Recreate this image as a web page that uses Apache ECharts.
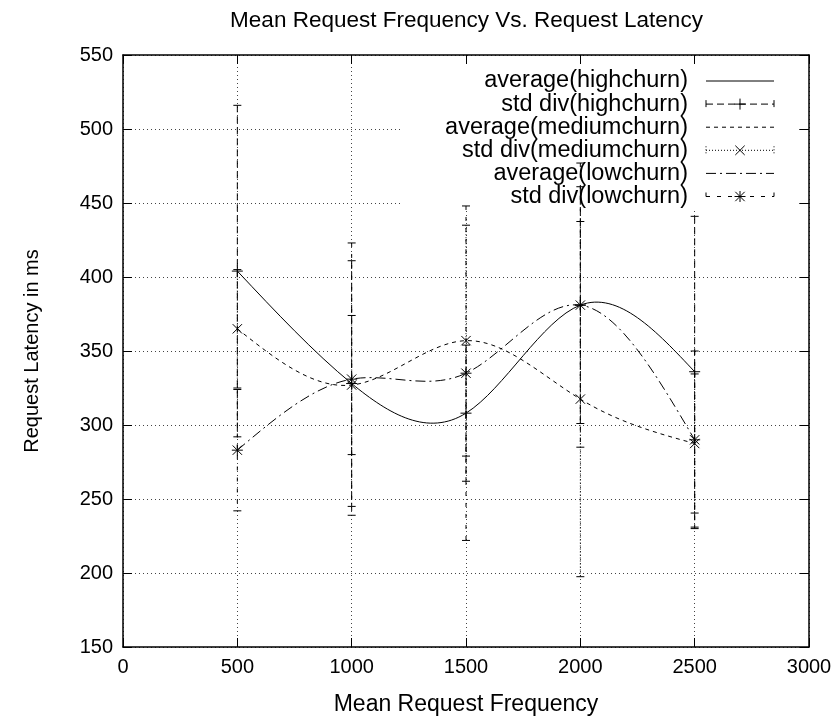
<!DOCTYPE html>
<html>
<head>
<meta charset="utf-8">
<script src="https://cdn.jsdelivr.net/npm/echarts@6/dist/echarts.min.js"></script>
<style>
  html, body { margin: 0; padding: 0; background: #fff; }
  #chart { width: 835px; height: 719px; }
</style>
</head>
<body>
<div id="chart"></div>
<script>
// Mean request frequency (x) and latency statistics (ms) per churn level
const freq = [500, 1000, 1500, 2000, 2500];

const highAvg = [404, 328, 308, 381, 336];
const highStd = [112, 83, 46, 80, 105];

const medAvg = [365, 327, 357, 317.5, 287.5];
const medStd = [40, 47, 78, 120, 47];

const lowAvg = [283, 331, 335, 381, 290];
const lowStd = [41, 92, 113, 96, 60];

const xRange = [0, 3000, 500];
const yRange = [150, 550, 50];

const seriesNames = [
  'average(highchurn)', 'std div(highchurn)',
  'average(mediumchurn)', 'std div(mediumchurn)',
  'average(lowchurn)', 'std div(lowchurn)'
];

const FONT = '"Liberation Sans", Arial, Helvetica, sans-serif';
const INK = '#000';

// dash patterns per line type
const DASH = {
  solid: null,
  highBar: [7, 4],
  medAvg: [4, 4],
  medBar: [1, 2],
  lowAvg: [10, 4, 2, 4],
  lowBar: [4, 7]
};

const MARK = 5.5;  // half size of point symbols
const CAP = 4;     // half width of error bar caps

// Slopes of the natural cubic spline through (xs, ys)
function naturalSlopes(xs, ys) {
  const n = xs.length;
  const h = [];
  for (let i = 0; i < n - 1; i++) h.push(xs[i + 1] - xs[i]);
  const M = new Array(n).fill(0);
  if (n > 2) {
    const a = [], b = [], c = [], d = [];
    for (let i = 1; i < n - 1; i++) {
      a.push(h[i - 1]);
      b.push(2 * (h[i - 1] + h[i]));
      c.push(h[i]);
      d.push(6 * ((ys[i + 1] - ys[i]) / h[i] - (ys[i] - ys[i - 1]) / h[i - 1]));
    }
    const m = b.length;
    for (let i = 1; i < m; i++) {
      const w = a[i] / b[i - 1];
      b[i] -= w * c[i - 1];
      d[i] -= w * d[i - 1];
    }
    const sol = new Array(m);
    sol[m - 1] = d[m - 1] / b[m - 1];
    for (let i = m - 2; i >= 0; i--) sol[i] = (d[i] - c[i] * sol[i + 1]) / b[i];
    for (let i = 0; i < m; i++) M[i + 1] = sol[i];
  }
  const slopes = [];
  for (let i = 0; i < n - 1; i++) {
    slopes.push((ys[i + 1] - ys[i]) / h[i] - h[i] * (2 * M[i] + M[i + 1]) / 6);
  }
  slopes.push((ys[n - 1] - ys[n - 2]) / h[n - 2] + h[n - 2] * (M[n - 2] + 2 * M[n - 1]) / 6);
  return slopes;
}

function markerShapes(cx, cy, kind) {
  const s = { stroke: INK, lineWidth: 1 };
  const out = [];
  if (kind === 'plus' || kind === 'star') {
    out.push({ type: 'line', shape: { x1: cx - MARK, y1: cy, x2: cx + MARK, y2: cy }, style: s });
    out.push({ type: 'line', shape: { x1: cx, y1: cy - MARK, x2: cx, y2: cy + MARK }, style: s });
  }
  if (kind === 'cross' || kind === 'star') {
    const d = MARK * 0.85;
    out.push({ type: 'line', shape: { x1: cx - d, y1: cy - d, x2: cx + d, y2: cy + d }, style: s });
    out.push({ type: 'line', shape: { x1: cx - d, y1: cy + d, x2: cx + d, y2: cy - d }, style: s });
  }
  return out;
}

function errorBarRenderer(kind, dash) {
  return function (params, api) {
    const x = api.value(0), y = api.value(1), s = api.value(2);
    const hi = api.coord([x, y + s]);
    const lo = api.coord([x, y - s]);
    const c = api.coord([x, y]);
    const barStyle = { stroke: INK, lineWidth: 1, lineDash: dash };
    const capStyle = { stroke: INK, lineWidth: 1 };
    const children = [
      { type: 'line', shape: { x1: hi[0], y1: hi[1], x2: lo[0], y2: lo[1] }, style: barStyle },
      { type: 'line', shape: { x1: hi[0] - CAP, y1: hi[1], x2: hi[0] + CAP, y2: hi[1] }, style: capStyle },
      { type: 'line', shape: { x1: lo[0] - CAP, y1: lo[1], x2: lo[0] + CAP, y2: lo[1] }, style: capStyle }
    ].concat(markerShapes(c[0], c[1], kind));
    return { type: 'group', children: children };
  };
}

// Cubic-spline curve (as Bezier segments) through the averages
function splineRenderer(ys, dash) {
  const slopes = naturalSlopes(freq, ys);
  return function (params, api) {
    if (params.dataIndex !== 0) return null;
    let d = '';
    for (let i = 0; i < freq.length - 1; i++) {
      const h = freq[i + 1] - freq[i];
      const p0 = api.coord([freq[i], ys[i]]);
      const c1 = api.coord([freq[i] + h / 3, ys[i] + slopes[i] * h / 3]);
      const c2 = api.coord([freq[i + 1] - h / 3, ys[i + 1] - slopes[i + 1] * h / 3]);
      const p1 = api.coord([freq[i + 1], ys[i + 1]]);
      if (i === 0) d += 'M' + p0[0] + ' ' + p0[1];
      d += ' C' + c1[0] + ' ' + c1[1] + ' ' + c2[0] + ' ' + c2[1] + ' ' + p1[0] + ' ' + p1[1];
    }
    return {
      type: 'path', shape: { pathData: d },
      style: { stroke: INK, fill: 'none', lineWidth: 1, lineDash: dash }
    };
  };
}

function pairs(ys) { return freq.map((f, i) => [f, ys[i]]); }
function triples(ys, ds) { return freq.map((f, i) => [f, ys[i], ds[i]]); }

function avgSeries(name, ys, dash) {
  return {
    name: name, type: 'custom', data: pairs(ys), z: 2, silent: true,
    encode: { x: 0, y: 1 },
    renderItem: splineRenderer(ys, dash)
  };
}
function barSeries(name, ys, ds, kind, dash) {
  return {
    name: name, type: 'custom', data: triples(ys, ds), z: 3, silent: true,
    encode: { x: 0, y: 1 },
    renderItem: errorBarRenderer(kind, dash)
  };
}

// key drawn in the upper right corner of the plot
const keyTextRight = 688;
const keySample = [706, 774];
const keyTop = 81;
const keyStep = 23.1;
const keySpec = [
  { dash: null, caps: false, kind: null },
  { dash: DASH.highBar, caps: true, kind: 'plus' },
  { dash: DASH.medAvg, caps: false, kind: null },
  { dash: DASH.medBar, caps: true, kind: 'cross' },
  { dash: DASH.lowAvg, caps: false, kind: null },
  { dash: DASH.lowBar, caps: true, kind: 'star' }
];

const graphics = [
  // blank area behind the key (hides the grid there)
  { type: 'rect', z: 1, silent: true, shape: { x: 403, y: 65, width: 396, height: 144 }, style: { fill: '#fff' } },
  {
    type: 'text', z: 10, x: 466.5, y: 21, silent: true,
    style: { text: 'Mean Request Frequency Vs. Request Latency', align: 'center', verticalAlign: 'middle',
             fontSize: 22.5, fontFamily: FONT, fill: INK }
  }
];
seriesNames.forEach(function (name, i) {
  const y = keyTop + keyStep * i;
  const k = keySpec[i];
  graphics.push({
    type: 'text', z: 10, x: keyTextRight, y: y, silent: true,
    style: { text: name, align: 'right', verticalAlign: 'middle', fontSize: 23.5, fontFamily: FONT, fill: INK }
  });
  graphics.push({
    type: 'line', z: 10, silent: true,
    shape: { x1: keySample[0], y1: y, x2: keySample[1], y2: y },
    style: { stroke: INK, lineWidth: 1, lineDash: k.dash }
  });
  if (k.caps) {
    [keySample[0], keySample[1]].forEach(function (cx) {
      graphics.push({
        type: 'line', z: 10, silent: true,
        shape: { x1: cx, y1: y - CAP, x2: cx, y2: y + CAP },
        style: { stroke: INK, lineWidth: 1, lineDash: k.dash }
      });
    });
  }
  if (k.kind) {
    markerShapes((keySample[0] + keySample[1]) / 2, y, k.kind).forEach(function (m) {
      m.z = 10; m.silent = true; graphics.push(m);
    });
  }
});

const axisLine = { show: true, onZero: false, lineStyle: { color: INK, width: 1.5 } };
const axisTick = { show: true, inside: true, length: 9, lineStyle: { color: INK, width: 1 } };
const gridLine = { show: true, lineStyle: { color: '#444', width: 1, type: [1, 3] } };
const labelStyle = { color: INK, fontSize: 20, fontFamily: FONT, formatter: function (v) { return String(v); } };

const option = {
  animation: false,
  backgroundColor: '#fff',
  grid: { left: 123, right: 26, top: 55, bottom: 72, containLabel: false, outerBoundsMode: 'none' },
  xAxis: [
    {
      type: 'value', position: 'bottom', min: xRange[0], max: xRange[1], interval: xRange[2],
      axisLine: axisLine, axisTick: axisTick, splitLine: gridLine,
      axisLabel: Object.assign({ margin: 10 }, labelStyle),
      name: 'Mean Request Frequency', nameLocation: 'middle', nameGap: 46,
      nameTextStyle: { color: INK, fontSize: 23, fontFamily: FONT }
    },
    {
      type: 'value', position: 'top', min: xRange[0], max: xRange[1], interval: xRange[2],
      axisLine: axisLine, axisTick: axisTick, splitLine: { show: false }, axisLabel: { show: false }
    }
  ],
  yAxis: [
    {
      type: 'value', position: 'left', min: yRange[0], max: yRange[1], interval: yRange[2],
      axisLine: axisLine, axisTick: axisTick, splitLine: gridLine,
      axisLabel: Object.assign({ margin: 10 }, labelStyle),
      name: 'Request Latency in ms', nameLocation: 'middle', nameGap: 81,
      nameTextStyle: { color: INK, fontSize: 20, fontFamily: FONT }
    },
    {
      type: 'value', position: 'right', min: yRange[0], max: yRange[1], interval: yRange[2],
      axisLine: axisLine, axisTick: axisTick, splitLine: { show: false }, axisLabel: { show: false }
    }
  ],
  series: [
    avgSeries(seriesNames[0], highAvg, null),
    barSeries(seriesNames[1], highAvg, highStd, 'plus', DASH.highBar),
    avgSeries(seriesNames[2], medAvg, DASH.medAvg),
    barSeries(seriesNames[3], medAvg, medStd, 'cross', DASH.medBar),
    avgSeries(seriesNames[4], lowAvg, DASH.lowAvg),
    barSeries(seriesNames[5], lowAvg, lowStd, 'star', DASH.lowBar)
  ],
  graphic: graphics
};

const chart = echarts.init(document.getElementById('chart'), null, { renderer: 'canvas' });
chart.setOption(option);
</script>
</body>
</html>
